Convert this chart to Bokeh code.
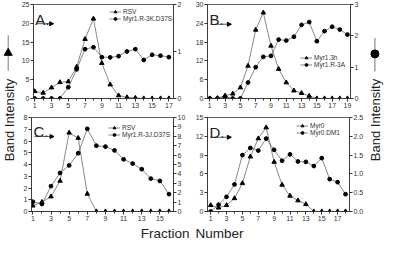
import math
from bokeh.plotting import figure
from bokeh.models import (Range1d, LinearAxis, FixedTicker, Legend, LegendItem, Label,
                          Arrow, NormalHead, PrintfTickFormatter, Title)
from bokeh.layouts import row, column
from bokeh.embed import file_html
from bokeh.resources import INLINE
from bokeh.core.properties import value

FONT = "Liberation Sans"

# ---------------- data ----------------
a_x = list(range(1, 18))
a_rsv = [1.9, 1.5, 2.9, 4.3, 4.5, 8.4, 15.8, 21.2, 9.4, 3.7, 0.8, 0.3, 0.15, 0, 0, 0, 0]
a_myr = [0, 0, 0, 0, 0.24, 0.62, 1.05, 1.09, 0.88, 0.875, 0.9, 1.0, 1.05, 0.82, 0.93, 0.91, 0.88]

b_x = list(range(1, 20))
b_myr13h = [0, 0.1, 0.9, 1.5, 3.5, 10.4, 21.9, 27.4, 16.8, 9.4, 5.1, 2.5, 1.7, 0.8, 0, 0, 0, 0, 0]
b_myr3a = [0, 0, 0.05, 0, 0, 0.51, 1.0, 1.33, 1.36, 1.88, 1.85, 1.97, 2.35, 2.44, 1.83, 2.15, 2.29, 2.2, 2.04]

c_x = list(range(1, 17))
c_rsv = [0.49, 0.8, 1.27, 2.6, 6.7, 6.25, 1.5, 0, 0, 0, 0, 0, 0, 0, 0, 0]
c_myr = [1.04, 0.8, 2.7, 4.1, 4.9, 6.2, 8.8, 7.0, 6.9, 6.5, 5.55, 5.1, 4.5, 3.5, 3.25, 1.85]

d_x = list(range(1, 19))
d_myr0 = [1.0, 0.6, 1.0, 2.1, 4.5, 8.75, 11.65, 13.4, 7.9, 4.25, 2.5, 1.75, 1.15, 0, 0, 0, 0, 0]
d_dm1 = [0, 0.18, 0.39, 0.72, 1.5, 1.69, 1.62, 1.94, 1.64, 1.35, 1.52, 1.33, 1.32, 1.21, 1.42, 0.86, 0.78, 0.46]

a_names = ["RSV", "Myr1.R-3K.D37S"]
b_names = ["Myr1.3h", "Myr1.R-3A"]
c_names = ["RSV", "Myr1.R-3J.D37S"]
d_names = ["Myr0", "Myr0.DM1"]

a_left_ticks = [0, 5, 10, 15, 20, 25]
a_right_ticks = [0, 1, 2]
b_left_ticks = [0, 6, 12, 18, 24, 30]
b_right_ticks = [0, 1, 2, 3]
c_left_ticks = [0, 1, 2, 3, 4, 5, 6, 7, 8]
c_right_ticks = [0, 1, 2, 3, 4, 5, 6, 7, 8, 9, 10]
d_left_ticks = [0, 3, 6, 9, 12, 15]
d_right_ticks = [0, 0.5, 1.0, 1.5, 2.0, 2.5]

x_title = ["Fraction", "Number"]
y_title = "Band Intensity"

LINE_C = "#555555"
AX_C = "#333333"
TXT_C = "#222222"


def style_axis(ax):
    ax.axis_line_color = AX_C
    ax.axis_line_width = 0.8
    ax.major_tick_line_color = AX_C
    ax.minor_tick_line_color = AX_C
    ax.major_tick_out = 3
    ax.major_tick_in = 0
    ax.minor_tick_out = 2
    ax.minor_tick_in = 0
    ax.major_label_text_font_size = "7px"
    ax.major_label_text_font = FONT
    ax.major_label_text_color = AX_C
    ax.major_label_standoff = 1


def panel(x, tri, circ, names, xr, ltk, rtk, xtk, rfmt, letter, lpos, arr, legloc,
          borders):
    bl, br, bt, bb = borders
    p = figure(width=174, height=bt + 94 + bb, x_range=Range1d(*xr),
               y_range=Range1d(0, ltk[-1]), output_backend="svg", title=None,
               toolbar_location=None, min_border_left=bl, min_border_right=br,
               min_border_top=bt, min_border_bottom=bb)
    p.extra_y_ranges = {"r": Range1d(0, rtk[-1])}
    p.xgrid.visible = False
    p.ygrid.visible = False
    p.outline_line_color = AX_C
    p.outline_line_width = 0.8
    p.background_fill_color = "white"
    p.border_fill_color = "white"

    p.xaxis.ticker = FixedTicker(ticks=xtk, minor_ticks=list(x))
    p.yaxis.ticker = FixedTicker(ticks=ltk, minor_ticks=[])
    rax = LinearAxis(y_range_name="r", ticker=FixedTicker(ticks=rtk, minor_ticks=[]))
    if rfmt:
        rax.formatter = PrintfTickFormatter(format=rfmt)
    p.add_layout(rax, "right")
    for ax in [p.xaxis[0], p.yaxis[0], rax]:
        style_axis(ax)

    l1 = p.line(x, tri, color=LINE_C, line_width=0.7)
    s1 = p.scatter(x, tri, marker="triangle", size=4.5, color="black")
    l2 = p.line(x, circ, color=LINE_C, line_width=0.7, y_range_name="r")
    s2 = p.scatter(x, circ, marker="circle", size=3.8, color="black", y_range_name="r")

    leg = Legend(items=[LegendItem(label=names[0], renderers=[l1, s1]),
                        LegendItem(label=names[1], renderers=[l2, s2])],
                 location=legloc, glyph_width=12, glyph_height=7, label_height=7,
                 label_text_font_size="6.5px", label_text_font=FONT,
                 label_text_color=AX_C, padding=0, spacing=0, margin=0,
                 label_standoff=2, border_line_color=None, background_fill_alpha=0)
    p.add_layout(leg)

    p.add_layout(Label(x=lpos[0], y=lpos[1], text=letter, text_font=FONT,
                       text_font_size="15px", text_color=TXT_C,
                       text_baseline="alphabetic"))
    p.add_layout(Arrow(x_start=arr[0], x_end=arr[1], y_start=arr[2], y_end=arr[2],
                       line_color="#333333", line_width=0.8,
                       end=NormalHead(size=4, fill_color="black", line_color="black")))
    return p


pa = panel(a_x, a_rsv, a_myr, a_names, (0.85, 17.55), a_left_ticks, a_right_ticks,
           list(range(1, 18, 2)), None, "A.", (1.05, 20.9), (1.19, 3.25, 19.9),
           (76, 76), (13, 19, 4, 13))
pb = panel(b_x, b_myr13h, b_myr3a, b_names, (0.7, 19.4), b_left_ticks, b_right_ticks,
           list(range(1, 20, 2)), None, "B.", (0.95, 25.2), (1.7, 3.82, 23.7),
           (93, 30), (14, 16, 4, 13))
pc = panel(c_x, c_rsv, c_myr, c_names, (0.85, 16.5), c_left_ticks, c_right_ticks,
           list(range(1, 16, 2)), None, "C.", (1.07, 6.84), (1.17, 3.33, 6.38),
           (77, 73), (13, 19, 6, 30))
pd = panel(d_x, d_myr0, d_dm1, d_names, (0.6, 18.5), d_left_ticks, d_right_ticks,
           list(range(1, 18, 2)), "%.1f", "D.", (0.84, 12.55), (0.96, 3.6, 11.85),
           (89, 75), (14, 16, 6, 30))

# shared x-axis title, split across the two lower panels at the column gap
pc.add_layout(Title(text=x_title[0], align="right", offset=-16, standoff=0,
                    text_font=FONT, text_font_size="13.5px", text_font_style="normal",
                    text_color=TXT_C), "below")
pd.add_layout(Title(text=x_title[1], align="left", offset=-12, standoff=0,
                    text_font=FONT, text_font_size="13.5px", text_font_style="normal",
                    text_color=TXT_C), "below")


def strip(w, h):
    s = figure(width=w, height=h, x_range=Range1d(0, w), y_range=Range1d(h, 0),
               output_backend="svg", toolbar_location=None, x_axis_type=None,
               y_axis_type=None, title=None, min_border=0, min_border_left=0,
               min_border_right=0, min_border_top=0, min_border_bottom=0)
    s.outline_line_color = None
    s.xgrid.visible = False
    s.ygrid.visible = False
    return s


left = strip(18, 241)
left.text(x=[8.6], y=[119.5], text=[y_title], angle=math.pi / 2,
          text_align="center", text_baseline="middle", text_font=value(FONT),
          text_font_size="13px", text_color=TXT_C)
left.line(x=[7.7, 7.7], y=[34.7, 70.3], color=LINE_C, line_width=0.8)
left.scatter(x=[7.7], y=[52.5], marker="triangle", size=8, color="black")

right = strip(18, 241)
right.text(x=[9], y=[119.5], text=[y_title], angle=math.pi / 2,
           text_align="center", text_baseline="middle", text_font=value(FONT),
           text_font_size="13px", text_color=TXT_C)
right.line(x=[8.4, 8.4], y=[37.5, 71], color=LINE_C, line_width=0.8)
right.scatter(x=[8.4], y=[53.4], marker="circle", size=8, color="black")

grid = column(row(pa, pb, spacing=0), row(pc, pd, spacing=0), spacing=0)
layout = row(left, grid, right, spacing=0)

open("out.html", "w").write(file_html(layout, INLINE))
